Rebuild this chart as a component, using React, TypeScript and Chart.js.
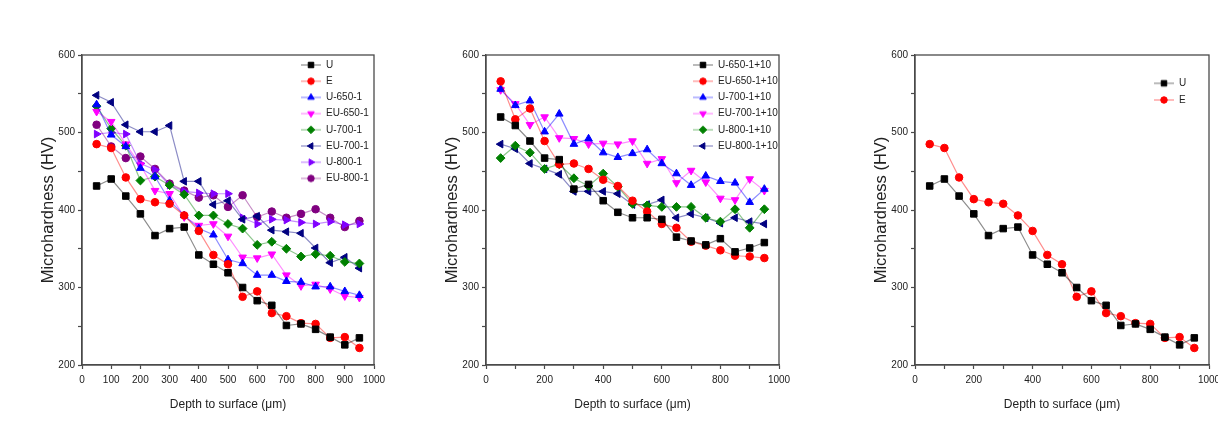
import React, { useEffect, useRef } from 'react';
import { Chart, registerables } from 'chart.js';
import { drawPoint } from 'chart.js/helpers';

Chart.register(...registerables);

// ---------- data ----------
const depthUm = [50, 100, 150, 200, 250, 300, 350, 400, 450, 500, 550, 600, 650, 700, 750, 800, 850, 900, 950];
const xTicksAll = [0, 100, 200, 300, 400, 500, 600, 700, 800, 900, 1000];
const yTicksMajor = [200, 300, 400, 500, 600];

// panel (a) and (c)
const hvU = [431, 440, 418, 395, 367, 376, 378, 342, 330, 319, 300, 283, 277, 251, 253, 246, 236, 226, 235];
const hvE = [485, 480, 442, 414, 410, 408, 393, 373, 342, 330, 288, 295, 267, 263, 254, 253, 235, 236, 222];
const hvU650 = [536, 497, 482, 454, 443, 412, 393, 376, 368, 336, 331, 316, 316, 308, 307, 301, 301, 295, 290];
const hvEU650 = [527, 514, 485, 458, 425, 421, 391, 380, 382, 366, 339, 338, 343, 316, 302, 304, 298, 289, 287];
const hvU700 = [534, 505, 483, 438, 443, 432, 420, 393, 393, 382, 376, 355, 359, 350, 340, 343, 341, 333, 331];
const hvEU700 = [548, 539, 510, 501, 501, 509, 437, 437, 407, 412, 388, 392, 374, 372, 370, 351, 332, 339, 325];
const hvU800 = [498, 500, 498, 460, 452, 432, 424, 422, 421, 421, 390, 382, 388, 387, 384, 382, 385, 381, 382];
const hvEU800 = [510, 482, 467, 469, 453, 434, 425, 416, 419, 404, 419, 391, 398, 390, 395, 401, 390, 378, 386];

// panel (b)
const hvU650b = [520, 509, 489, 467, 465, 427, 433, 412, 397, 390, 390, 388, 365, 360, 355, 363, 346, 351, 358];
const hvEU650b = [566, 517, 531, 489, 459, 460, 453, 439, 431, 412, 398, 382, 377, 359, 354, 348, 341, 340, 338];
const hvU700b = [556, 535, 541, 501, 524, 485, 492, 474, 468, 473, 478, 460, 447, 432, 444, 437, 435, 410, 427];
const hvEU700b = [555, 537, 510, 520, 493, 492, 485, 486, 485, 489, 460, 466, 435, 451, 436, 415, 413, 440, 425];
const hvU800b = [467, 483, 474, 453, 459, 441, 431, 447, 430, 408, 406, 404, 404, 404, 390, 385, 401, 377, 401];
const hvEU800b = [485, 479, 460, 453, 446, 424, 424, 424, 421, 407, 407, 413, 390, 395, 390, 383, 390, 385, 382];

// ---------- styles ----------
const FONT = "'Liberation Sans', Arial, sans-serif";
const TXT = '#222222';
const AX = '#4a4a4a';
const H = 432;

type Mark = { color: string; line: string; style: string; rot: number; r: number };
const mBlack: Mark = { color: '#000000', line: 'rgba(0,0,0,0.45)', style: 'rect', rot: 0, r: 4.6 };
const mRed: Mark = { color: '#ff0000', line: 'rgba(255,0,0,0.45)', style: 'circle', rot: 0, r: 3.8 };
const mBlue: Mark = { color: '#0000ff', line: 'rgba(0,0,255,0.45)', style: 'triangle', rot: 0, r: 4.4 };
const mMag: Mark = { color: '#ff00ff', line: 'rgba(255,0,255,0.45)', style: 'triangle', rot: 180, r: 4.4 };
const mGreen: Mark = { color: '#008000', line: 'rgba(0,128,0,0.45)', style: 'rectRot', rot: 0, r: 4.4 };
const mNavy: Mark = { color: '#000080', line: 'rgba(0,0,128,0.45)', style: 'triangle', rot: 270, r: 4.4 };
const mViolet: Mark = { color: '#8000ff', line: 'rgba(128,0,255,0.45)', style: 'triangle', rot: 90, r: 4.4 };
const mPurple: Mark = { color: '#800080', line: 'rgba(128,0,128,0.45)', style: 'circle', rot: 0, r: 3.8 };

type Series = { label: string; data: number[]; mark: Mark };
type PanelCfg = {
  id: string;
  left: number;
  w: number;
  yAxisW: number;
  padRight: number;
  xLabelEvery: number;
  legendX: number;
  legendY: number;
  legendPad: number;
  series: Series[];
};

const panels: PanelCfg[] = [
  {
    id: 'a', left: 0, w: 400, yAxisW: 82, padRight: 26, xLabelEvery: 100,
    legendX: 294.8, legendY: 53.8, legendPad: 6.2,
    series: [
      { label: 'U', data: hvU, mark: mBlack },
      { label: 'E', data: hvE, mark: mRed },
      { label: 'U-650-1', data: hvU650, mark: mBlue },
      { label: 'EU-650-1', data: hvEU650, mark: mMag },
      { label: 'U-700-1', data: hvU700, mark: mGreen },
      { label: 'EU-700-1', data: hvEU700, mark: mNavy },
      { label: 'U-800-1', data: hvU800, mark: mViolet },
      { label: 'EU-800-1', data: hvEU800, mark: mPurple },
    ],
  },
  {
    id: 'b', left: 405, w: 395, yAxisW: 81, padRight: 21, xLabelEvery: 200,
    legendX: 281.8, legendY: 53.8, legendPad: 6.2,
    series: [
      { label: 'U-650-1+10', data: hvU650b, mark: mBlack },
      { label: 'EU-650-1+10', data: hvEU650b, mark: mRed },
      { label: 'U-700-1+10', data: hvU700b, mark: mBlue },
      { label: 'EU-700-1+10', data: hvEU700b, mark: mMag },
      { label: 'U-800-1+10', data: hvU800b, mark: mGreen },
      { label: 'EU-800-1+10', data: hvEU800b, mark: mNavy },
    ],
  },
  {
    id: 'c', left: 830, w: 388, yAxisW: 85, padRight: 9, xLabelEvery: 200,
    legendX: 317.3, legendY: 71.6, legendPad: 6.7,
    series: [
      { label: 'U', data: hvU, mark: mBlack },
      { label: 'E', data: hvE, mark: mRed },
    ],
  },
];

function glyph(m: Mark): HTMLCanvasElement {
  const c = document.createElement('canvas');
  c.width = 20;
  c.height = 12;
  const g = c.getContext('2d') as CanvasRenderingContext2D;
  g.strokeStyle = m.line;
  g.lineWidth = 1.2;
  g.beginPath();
  g.moveTo(0, 6);
  g.lineTo(20, 6);
  g.stroke();
  g.fillStyle = m.color;
  g.strokeStyle = m.color;
  g.lineWidth = 1;
  drawPoint(g, { pointStyle: m.style as any, rotation: m.rot, radius: m.r * 0.85, borderWidth: 1 } as any, 10, 6);
  return c;
}

const framePlugin = {
  id: 'frame',
  afterDraw(chart: any) {
    const { ctx, chartArea } = chart;
    const { left, top, right, bottom } = chartArea;
    ctx.save();
    ctx.strokeStyle = AX;
    ctx.lineWidth = 1.3;
    ctx.strokeRect(left, top, right - left, bottom - top);
    ctx.restore();
  },
};

const legendPosPlugin = {
  id: 'legendPos',
  afterLayout(chart: any, _args: any, opts: any) {
    const lg = chart.legend;
    if (!lg) return;
    const w = lg.width;
    const h = lg.height;
    lg.left = opts.x;
    lg.top = opts.y;
    lg.right = opts.x + w;
    lg.bottom = opts.y + h;
  },
};

function buildConfig(p: PanelCfg): any {
  const glyphs = p.series.map((s) => glyph(s.mark));
  const titleSize = 16.5;
  const titleLH = titleSize * 1.2;
  return {
    type: 'line',
    data: {
      datasets: p.series.map((s) => ({
        label: s.label,
        data: depthUm.map((x, i) => ({ x, y: s.data[i] })),
        borderColor: s.mark.line,
        backgroundColor: s.mark.color,
        pointBackgroundColor: s.mark.color,
        pointBorderColor: s.mark.color,
        pointStyle: s.mark.style,
        pointRotation: s.mark.rot,
        pointRadius: s.mark.r,
        pointBorderWidth: 1,
        borderWidth: 1.2,
        tension: 0,
        fill: false,
      })),
    },
    options: {
      responsive: false,
      animation: false,
      events: [],
      layout: { padding: { top: 55, right: p.padRight, bottom: 0, left: 0 } },
      scales: {
        x: {
          type: 'linear',
          min: 0,
          max: 1000,
          afterBuildTicks: (scale: any) => {
            scale.ticks = xTicksAll.map((v) => ({ value: v }));
          },
          afterFit: (scale: any) => {
            scale.height = 67;
            scale.paddingLeft = 0;
            scale.paddingRight = 0;
          },
          ticks: {
            autoSkip: false,
            maxRotation: 0,
            padding: 5,
            color: TXT,
            font: { family: FONT, size: 10 },
            callback: (v: number) => (v % p.xLabelEvery === 0 ? String(v) : ''),
          },
          grid: { drawOnChartArea: false, drawTicks: true, tickLength: 4, tickColor: AX, tickWidth: 1.2 },
          border: { display: true, color: AX, width: 1.3 },
          title: {
            display: true,
            text: 'Depth to surface (μm)',
            color: TXT,
            font: { family: FONT, size: 12 },
            padding: { top: 0, bottom: 19.8 },
          },
        },
        y: {
          type: 'linear',
          min: 200,
          max: 600,
          afterBuildTicks: (scale: any) => {
            const t: any[] = [];
            yTicksMajor.forEach((v, i) => {
              t.push({ value: v });
              if (i < yTicksMajor.length - 1) t.push({ value: (v + yTicksMajor[i + 1]) / 2 });
            });
            scale.ticks = t;
          },
          afterFit: (scale: any) => {
            scale.width = p.yAxisW;
            scale.paddingTop = 0;
            scale.paddingBottom = 0;
          },
          ticks: {
            autoSkip: false,
            padding: 3,
            color: TXT,
            font: { family: FONT, size: 10 },
            callback: (v: number) => (yTicksMajor.includes(v) ? String(v) : ''),
          },
          grid: { drawOnChartArea: false, drawTicks: true, tickLength: 4, tickColor: AX, tickWidth: 1.2 },
          border: { display: true, color: AX, width: 1.3 },
          title: {
            display: true,
            text: 'Microhardness (HV)',
            color: TXT,
            font: { family: FONT, size: titleSize },
            padding: { top: p.yAxisW - 34 - titleLH / 2, bottom: 0 },
          },
        },
      },
      plugins: {
        tooltip: { enabled: false },
        legendPos: { x: p.legendX, y: p.legendY },
        legend: {
          display: true,
          position: 'chartArea',
          align: 'start',
          labels: {
            usePointStyle: true,
            pointStyleWidth: 20,
            padding: p.legendPad,
            color: TXT,
            font: { family: FONT, size: 10 },
            generateLabels: (chart: any) =>
              chart.data.datasets.map((d: any, i: number) => ({
                text: d.label,
                fillStyle: d.backgroundColor,
                strokeStyle: d.backgroundColor,
                lineWidth: 0,
                pointStyle: glyphs[i],
                hidden: false,
                datasetIndex: i,
                fontColor: TXT,
              })),
          },
        },
      },
    },
    plugins: [framePlugin, legendPosPlugin],
  };
}

function Panel({ cfg }: { cfg: PanelCfg }) {
  const ref = useRef<HTMLCanvasElement | null>(null);
  useEffect(() => {
    if (!ref.current) return;
    const chart = new Chart(ref.current, buildConfig(cfg));
    return () => chart.destroy();
  }, [cfg]);
  return (
    <canvas
      ref={ref}
      width={cfg.w}
      height={H}
      style={{ position: 'absolute', left: cfg.left, top: 0, width: cfg.w, height: H, display: 'block' }}
    />
  );
}

export default function App() {
  return (
    <div style={{ position: 'absolute', left: 0, top: 0, width: 1218, height: H, background: '#ffffff', overflow: 'hidden' }}>
      {panels.map((p) => (
        <Panel key={p.id} cfg={p} />
      ))}
    </div>
  );
}
